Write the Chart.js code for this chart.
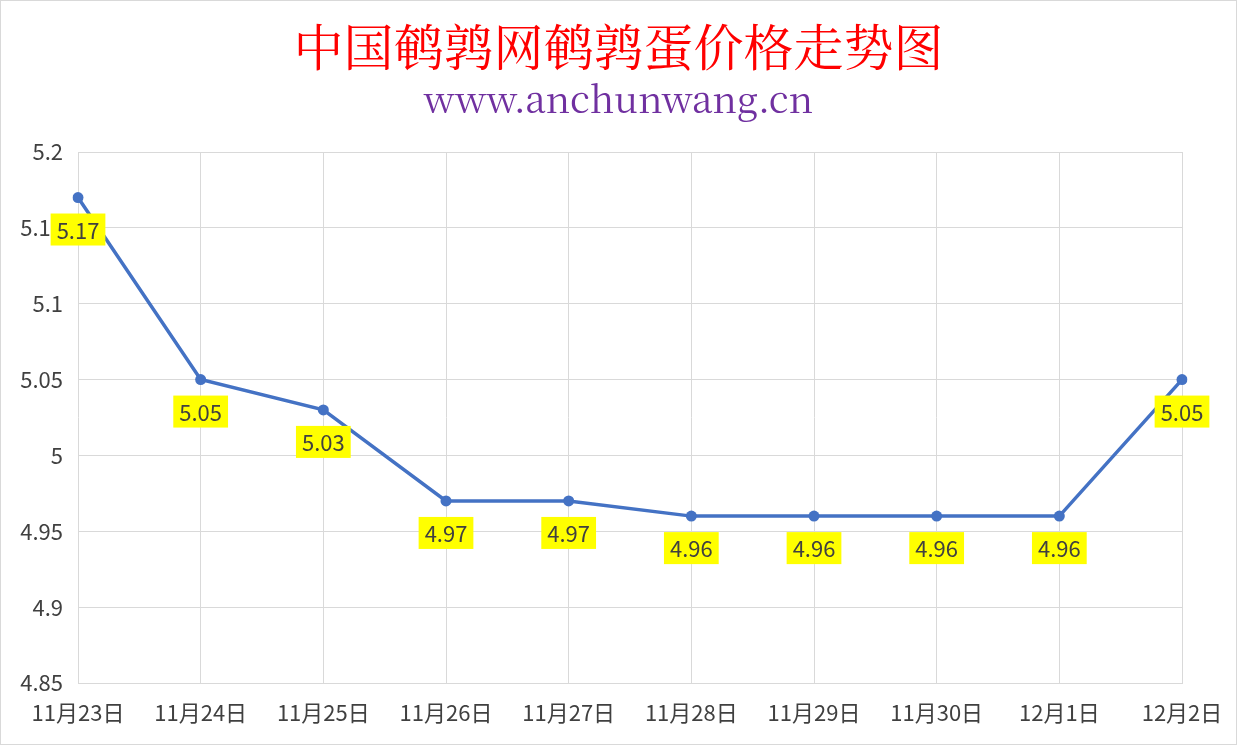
<!DOCTYPE html>
<html>
<head>
<meta charset="utf-8">
<script src="https://cdn.jsdelivr.net/npm/chart.js@4"></script>
<style>
  html, body { margin: 0; padding: 0; background: #ffffff; }
  #wrap { width: 1237px; height: 745px; box-sizing: border-box; border: 1px solid #d9d9d9; }
  #eggChart { display: block; }
</style>
</head>
<body>
<div id="wrap"><canvas id="eggChart" width="1235" height="743"></canvas></div>
<script>
/* 鹌鹑蛋价格走势 — 数据 */
var DATES = ["11月23日", "11月24日", "11月25日", "11月26日", "11月27日",
             "11月28日", "11月29日", "11月30日", "12月1日", "12月2日"];
var PRICES = [5.17, 5.05, 5.03, 4.97, 4.97, 4.96, 4.96, 4.96, 4.96, 5.05];
var Y_MIN = 4.85;
var Y_MAX = 5.2;
var Y_STEP = 0.05;
var TITLE = "中国鹌鹑网鹌鹑蛋价格走势图";
var SUBTITLE = "www.anchunwang.cn";

(function () {
  var SANS = '"Noto Sans CJK SC", "Noto Sans", sans-serif';
  var SERIF = '"Noto Serif CJK SC", "Liberation Serif", "DejaVu Serif", serif';

  /* ---------- 标题 ---------- */
  var headerPlugin = {
    id: "header",
    beforeDraw: function (chart) {
      var ctx = chart.ctx;
      var cx = chart.width / 2;
      ctx.save();
      ctx.textAlign = "center";
      ctx.textBaseline = "middle";
      ctx.fillStyle = "#ff0000";
      ctx.font = "50px " + '"Noto Serif CJK SC", "Noto Sans CJK SC", serif';
      ctx.fillText(TITLE, cx, 46);
      ctx.fillStyle = "#7030a0";
      ctx.font = "37px " + SERIF;
      ctx.fillText(SUBTITLE, cx, 98);
      ctx.restore();
    }
  };

  /* ---------- 数据标签 ---------- */
  var labelPlugin = {
    id: "priceLabels",
    afterDatasetsDraw: function (chart) {
      var ctx = chart.ctx;
      var meta = chart.getDatasetMeta(0);
      ctx.save();
      ctx.font = "22px " + SANS;
      ctx.textAlign = "center";
      ctx.textBaseline = "middle";
      meta.data.forEach(function (pt, i) {
        var txt = PRICES[i].toFixed(2);
        var w = ctx.measureText(txt).width + 12;
        var h = 32;
        var top = pt.y + 16;
        ctx.fillStyle = "#ffff00";
        ctx.fillRect(pt.x - w / 2, top, w, h);
        ctx.fillStyle = "#404040";
        ctx.fillText(txt, pt.x, top + h / 2 + 1);
      });
      ctx.restore();
    }
  };

  function init() {
    var ctx = document.getElementById("eggChart").getContext("2d");
    new Chart(ctx, {
      type: "line",
      data: {
        labels: DATES,
        datasets: [{
          data: PRICES,
          borderColor: "#4472c4",
          backgroundColor: "#4472c4",
          borderWidth: 3.5,
          pointRadius: 5.5,
          pointBackgroundColor: "#4472c4",
          pointBorderWidth: 0,
          tension: 0,
          fill: false
        }]
      },
      options: {
        responsive: false,
        animation: false,
        layout: { padding: { top: 151, right: 54, left: 0, bottom: 0 } },
        scales: {
          x: {
            offset: false,
            grid: { color: "#d9d9d9", lineWidth: 1, drawTicks: false },
            border: { color: "#d9d9d9" },
            ticks: {
              color: "#404040",
              padding: 16,
              maxRotation: 0,
              autoSkip: false,
              font: { size: 22, family: SANS }
            },
            afterFit: function (s) {
              s.height = 61;
              s.paddingLeft = 0;
              s.paddingRight = 0;
            }
          },
          y: {
            min: Y_MIN,
            max: Y_MAX,
            grid: { color: "#d9d9d9", lineWidth: 1, drawTicks: false },
            border: { display: false },
            ticks: {
              stepSize: Y_STEP,
              color: "#404040",
              padding: 15,
              font: { size: 22, family: SANS },
              callback: function (v) { return String(parseFloat(v.toFixed(2))); }
            },
            afterFit: function (s) { s.width = 77; }
          }
        },
        plugins: {
          legend: { display: false },
          tooltip: { enabled: false }
        }
      },
      plugins: [headerPlugin, labelPlugin]
    });
  }

  if (document.readyState === "loading") {
    document.addEventListener("DOMContentLoaded", init);
  } else {
    init();
  }
})();
</script>
</body>
</html>
